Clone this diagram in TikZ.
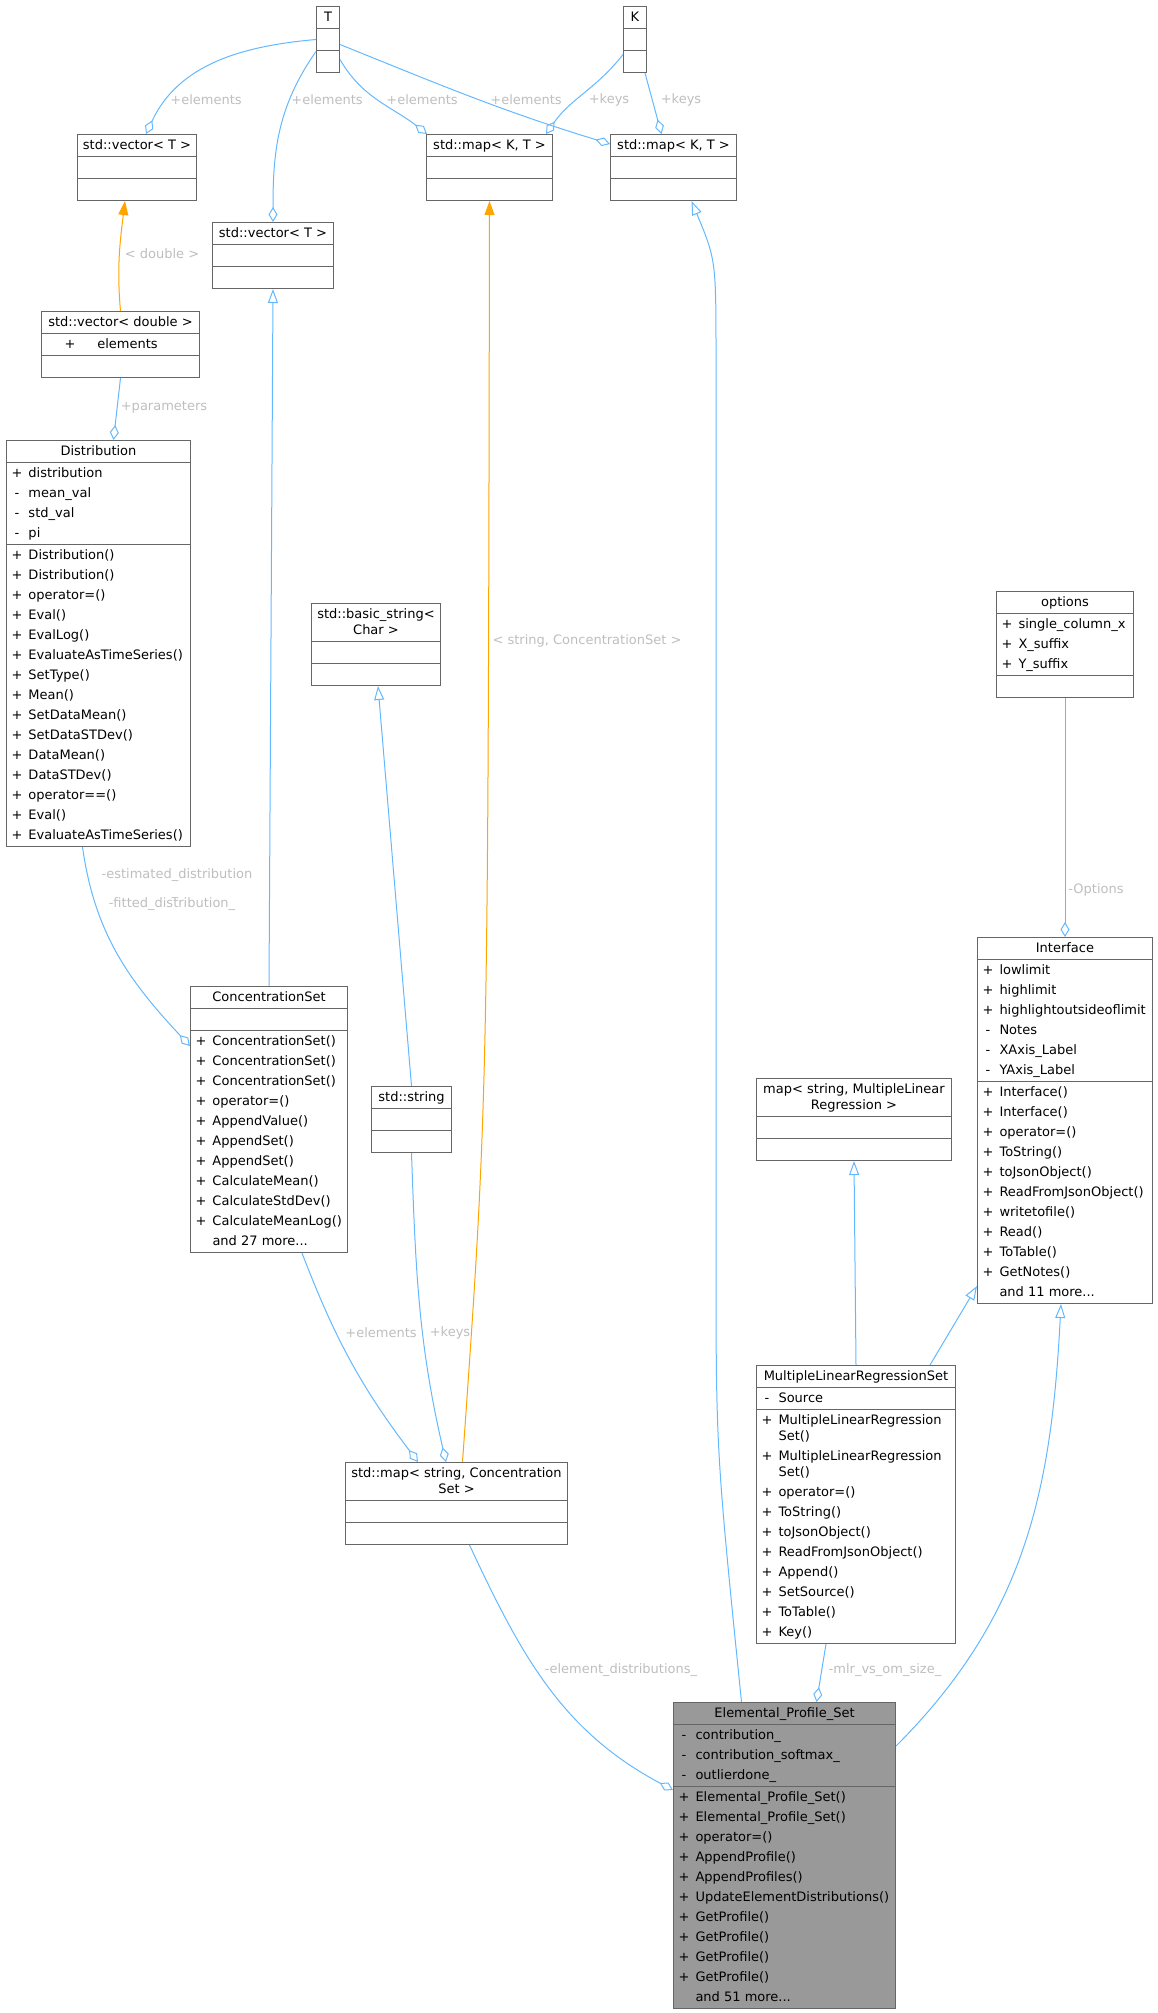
\documentclass[tikz,border=0pt]{standalone}
\usepackage{fontspec}
\newfontfamily\dxfont{DejaVu Sans}
\usetikzlibrary{shapes.multipart,arrows.meta}
\definecolor{dxEdge}{HTML}{63B8FF}
\definecolor{dxTpl}{HTML}{FFA500}
\definecolor{dxLine}{HTML}{666666}
\definecolor{dxLbl}{HTML}{BEBEBE}
\definecolor{dxFill}{HTML}{999999}
\newcommand{\umlRow}[2]{\makebox[17pt][l]{\makebox[11pt]{#1}}#2}
\newcommand{\umlPart}[1]{\begin{tabular}{@{}l@{}}#1\end{tabular}}
\newcommand{\umlHead}[1]{\begin{tabular}{@{}c@{}}#1\end{tabular}}
\newcommand{\umlEmpty}{\nodepart{two}\strut\nodepart{three}\strut}
\begin{document}
\begin{tikzpicture}[x=1pt,y=-1pt,
    umlBox/.style={rectangle split, rectangle split parts=3,
        rectangle split part align={center,left,left},
        draw=dxLine, line width=1pt, fill=white, inner xsep=5pt, inner ysep=0.5pt,
        anchor=north west, font={\dxfont\fontsize{13}{20}\selectfont}},
    umlAgg/.style={draw=dxEdge, line width=1pt, -{Diamond[open,length=15pt,width=9pt]}},
    umlInh/.style={draw=dxEdge, line width=1pt, -{Triangle[open,length=14pt,width=10pt]}},
    umlTpl/.style={draw=dxTpl, line width=1pt, -{Triangle[length=14pt,width=10pt]}},
    umlLbl/.style={text=dxLbl, inner sep=0pt, font={\dxfont\fontsize{13}{16}\selectfont}},
]
\useasboundingbox (0,0) rectangle (1158,2013);
% template parameters
\node[umlBox, minimum width=23pt] (tT) at (316,6) {\umlHead{T}\umlEmpty};
\node[umlBox, minimum width=23pt] (tK) at (623,6) {\umlHead{K}\umlEmpty};
% std containers
\node[umlBox, minimum width=119pt] (vecA) at (77,134) {\umlHead{std::vector< T >}\umlEmpty};
\node[umlBox, minimum width=126pt] (mapA) at (426,134) {\umlHead{std::map< K, T >}\umlEmpty};
\node[umlBox, minimum width=126pt] (mapB) at (610,134) {\umlHead{std::map< K, T >}\umlEmpty};
\node[umlBox, minimum width=121pt] (vecB) at (212,222) {\umlHead{std::vector< T >}\umlEmpty};
\node[umlBox, minimum width=158pt] (vecDbl) at (41,311) {\umlHead{std::vector< double >}
    \nodepart{two}\umlPart{\hspace{18pt}+\hspace{22pt}elements}\nodepart{three}\strut};
\node[umlBox, minimum width=129pt] (bstr) at (311,603) {\umlHead{std::basic\_string<\\[-4pt] Char >}\umlEmpty};
\node[umlBox, minimum width=80pt] (str) at (371,1086) {\umlHead{std::string}\umlEmpty};
\node[umlBox, minimum width=195pt] (mapMlr) at (756,1078) {\umlHead{map< string, MultipleLinear\\[-4pt] Regression >}\umlEmpty};
\node[umlBox, minimum width=222pt] (mapCs) at (345,1462) {\umlHead{std::map< string, Concentration\\[-4pt] Set >}\umlEmpty};
% classes
\node[umlBox, minimum width=184pt] (dist) at (6,440) {\umlHead{Distribution}
    \nodepart{two}\umlPart{\umlRow{+}{distribution}\\ \umlRow{-}{mean\_val}\\ \umlRow{-}{std\_val}\\ \umlRow{-}{pi}}
    \nodepart{three}\umlPart{\umlRow{+}{Distribution()}\\ \umlRow{+}{Distribution()}\\ \umlRow{+}{operator=()}\\
        \umlRow{+}{Eval()}\\ \umlRow{+}{EvalLog()}\\ \umlRow{+}{EvaluateAsTimeSeries()}\\ \umlRow{+}{SetType()}\\
        \umlRow{+}{Mean()}\\ \umlRow{+}{SetDataMean()}\\ \umlRow{+}{SetDataSTDev()}\\ \umlRow{+}{DataMean()}\\
        \umlRow{+}{DataSTDev()}\\ \umlRow{+}{operator==()}\\ \umlRow{+}{Eval()}\\ \umlRow{+}{EvaluateAsTimeSeries()}}};
\node[umlBox, minimum width=157pt] (cset) at (190,986) {\umlHead{ConcentrationSet}
    \nodepart{two}\strut
    \nodepart{three}\umlPart{\umlRow{+}{ConcentrationSet()}\\ \umlRow{+}{ConcentrationSet()}\\ \umlRow{+}{ConcentrationSet()}\\
        \umlRow{+}{operator=()}\\ \umlRow{+}{AppendValue()}\\ \umlRow{+}{AppendSet()}\\ \umlRow{+}{AppendSet()}\\
        \umlRow{+}{CalculateMean()}\\ \umlRow{+}{CalculateStdDev()}\\ \umlRow{+}{CalculateMeanLog()}\\ \umlRow{}{and 27 more...}}};
\node[umlBox, minimum width=137pt] (opts) at (996,591) {\umlHead{options}
    \nodepart{two}\umlPart{\umlRow{+}{single\_column\_x}\\ \umlRow{+}{X\_suffix}\\ \umlRow{+}{Y\_suffix}}
    \nodepart{three}\strut};
\node[umlBox, minimum width=175pt] (iface) at (977,937) {\umlHead{Interface}
    \nodepart{two}\umlPart{\umlRow{+}{lowlimit}\\ \umlRow{+}{highlimit}\\ \umlRow{+}{highlightoutsideoflimit}\\
        \umlRow{-}{Notes}\\ \umlRow{-}{XAxis\_Label}\\ \umlRow{-}{YAxis\_Label}}
    \nodepart{three}\umlPart{\umlRow{+}{Interface()}\\ \umlRow{+}{Interface()}\\ \umlRow{+}{operator=()}\\
        \umlRow{+}{ToString()}\\ \umlRow{+}{toJsonObject()}\\ \umlRow{+}{ReadFromJsonObject()}\\ \umlRow{+}{writetofile()}\\
        \umlRow{+}{Read()}\\ \umlRow{+}{ToTable()}\\ \umlRow{+}{GetNotes()}\\ \umlRow{}{and 11 more...}}};
\node[umlBox, minimum width=199pt] (mlr) at (756,1365) {\umlHead{MultipleLinearRegressionSet}
    \nodepart{two}\umlPart{\umlRow{-}{Source}}
    \nodepart{three}\umlPart{\umlRow{+}{MultipleLinearRegression}\\[-4pt] \umlRow{}{Set()}\\
        \umlRow{+}{MultipleLinearRegression}\\[-4pt] \umlRow{}{Set()}\\ \umlRow{+}{operator=()}\\ \umlRow{+}{ToString()}\\
        \umlRow{+}{toJsonObject()}\\ \umlRow{+}{ReadFromJsonObject()}\\ \umlRow{+}{Append()}\\ \umlRow{+}{SetSource()}\\
        \umlRow{+}{ToTable()}\\ \umlRow{+}{Key()}}};
\node[umlBox, minimum width=222pt, fill=dxFill] (eps) at (673,1702) {\umlHead{Elemental\_Profile\_Set}
    \nodepart{two}\umlPart{\umlRow{-}{contribution\_}\\ \umlRow{-}{contribution\_softmax\_}\\ \umlRow{-}{outlierdone\_}}
    \nodepart{three}\umlPart{\umlRow{+}{Elemental\_Profile\_Set()}\\ \umlRow{+}{Elemental\_Profile\_Set()}\\ \umlRow{+}{operator=()}\\
        \umlRow{+}{AppendProfile()}\\ \umlRow{+}{AppendProfiles()}\\ \umlRow{+}{UpdateElementDistributions()}\\
        \umlRow{+}{GetProfile()}\\ \umlRow{+}{GetProfile()}\\ \umlRow{+}{GetProfile()}\\ \umlRow{+}{GetProfile()}\\
        \umlRow{}{and 51 more...}}};
% members of T and K
\draw[umlAgg] (tT.west) to[out=185,in=65] ([xshift=9pt]vecA.north);
\draw[umlAgg] ([yshift=-12pt]tT.west) to[out=-125,in=90] (vecB.north);
\draw[umlAgg] ([yshift=-20pt]tT.east) to[out=-60,in=142] ([xshift=1pt]mapA.north west);
\draw[umlAgg] ([yshift=-5pt]tT.east) to[out=-22,in=163] ([yshift=-10pt]mapB.north west);
\draw[umlAgg] ([yshift=-15pt]tK.west) to[out=-128,in=55] ([xshift=-7pt]mapA.north east);
\draw[umlAgg] ([xshift=-2pt]tK.south east) -- ([xshift=-12pt]mapB.north);
\node[umlLbl] (lbElemA) at (206,100) {+elements};
\node[umlLbl] (lbElemB) at (327,100) {+elements};
\node[umlLbl] (lbElemC) at (422,100) {+elements};
\node[umlLbl] (lbElemD) at (526,100) {+elements};
\node[umlLbl] (lbKeysA) at (609,100) {+keys};
\node[umlLbl] (lbKeysB) at (681,100) {+keys};
% template instances
\draw[umlTpl] (vecDbl.north) to[out=95,in=-97] ([xshift=-12pt]vecA.south);
\node[umlLbl] (lbDbl) at (162,254) {< double >};
\draw[umlTpl] ([xshift=6pt]mapCs.north) .. controls (488,1100) .. (mapA.south);
\node[umlLbl] (lbTpl) at (587,641) {< string, ConcentrationSet >};
% aggregations
\draw[umlAgg] (vecDbl.south) -- ([xshift=15pt]dist.north);
\node[umlLbl] (lbPar) at (164,407) {+parameters};
\draw[umlAgg] ([xshift=-16pt]dist.south) to[out=-82,in=133] ([yshift=-60pt]cset.north west);
\node[umlLbl] (lbEst) at (177,875) {-estimated\_distribution};
\node[umlLbl, anchor=base] (lbEstEnd) at (175,895) {\_};
\node[umlLbl] (lbFit) at (172,904) {-fitted\_distribution\_};
\draw[umlAgg] ([xshift=33pt]cset.south) to[out=-69,in=127] ([xshift=73pt]mapCs.north west);
\node[umlLbl] (lbCsElem) at (381,1333) {+elements};
\draw[umlAgg] (str.south) to[out=-88,in=103] ([xshift=101pt]mapCs.north west);
\node[umlLbl] (lbStrKeys) at (450,1333) {+keys};
\draw[umlAgg] ([xshift=13pt]mapCs.south) to[out=-65,in=152] ([yshift=-88pt]eps.north west);
\node[umlLbl] (lbElDist) at (621,1670) {-element\_distributions\_};
\draw[umlAgg] (opts.south) -- (iface.north);
\node[umlLbl] (lbOpt) at (1096,890) {-Options};
\draw[umlAgg] ([xshift=-30pt]mlr.south) -- ([xshift=32pt]eps.north);
\node[umlLbl] (lbMlr) at (885,1670) {-mlr\_vs\_om\_size\_};
% inheritance
\draw[umlInh] (cset.north) -- (vecB.south);
\draw[umlInh] (str.north) -- ([xshift=2pt]bstr.south);
\draw[umlInh] (mlr.north) -- (mapMlr.south);
\draw[umlInh] ([xshift=-26pt]mlr.north east) -- ([yshift=18pt]iface.south west);
\draw[umlInh] ([yshift=-44pt]eps.north east) to[out=45,in=-93] ([xshift=-4pt]iface.south);
\draw[umlInh] ([xshift=-43pt]eps.north) .. controls (716,1450) .. (716,1250) -- (716,360)
    .. controls (716,260) .. ([xshift=18pt]mapB.south);
\end{tikzpicture}
\end{document}
